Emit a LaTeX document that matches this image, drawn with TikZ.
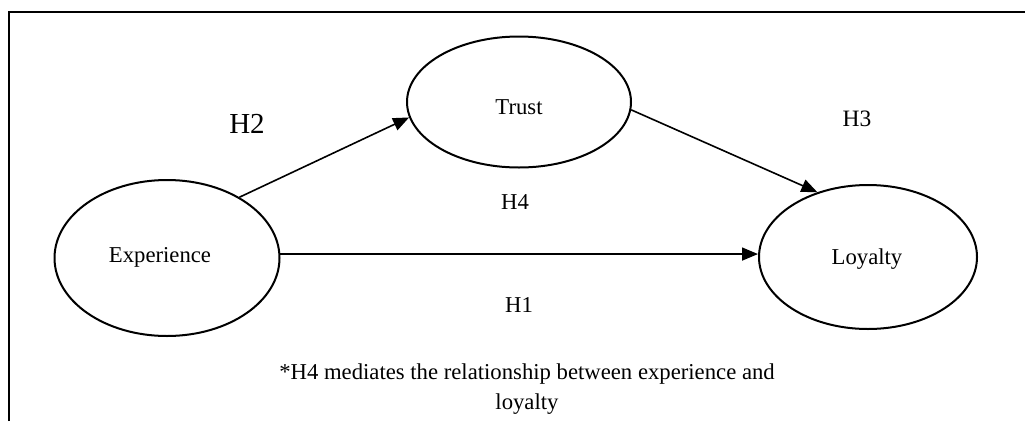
\documentclass[tikz,border=0pt]{standalone}
\usepackage{fontspec}
\setmainfont{Liberation Serif}
\usetikzlibrary{shapes.geometric,arrows.meta}
\tikzset{
  construct/.style={ellipse, draw, line width=2pt, inner sep=0pt},
  conn/.style={line width=1.6pt, -{Triangle[length=16pt,width=13pt]}},
  lbl/.style={anchor=base, inner sep=0pt, font=\fontsize{22.7}{27}\selectfont},
}
\begin{document}
\begin{tikzpicture}[x=1pt,y=-1pt]
\useasboundingbox (0,0) rectangle (1025,421);
% frame
\draw[line width=2pt] (9,421) -- (9,12) -- (1025,12);
% constructs
\node[construct, minimum width=225pt, minimum height=156pt] (exp) at (167,258) {};
\node[construct, minimum width=224pt, minimum height=131pt] (trust) at (519,102) {};
\node[construct, minimum width=218pt, minimum height=144pt] (loy) at (868,257) {};
% construct names
\node[lbl] (texp) at (160,262) {Experience};
\node[lbl] (ttrust) at (519,114) {Trust};
\node[lbl] (tloy) at (867,264) {Loyalty};
% connectors
\draw[conn] (exp.40) -- (trust.188);
\draw[conn] (trust.-4) -- (loy.128);
\draw[conn] (exp.2) -- (exp.2 -| loy.west);
% hypothesis labels
\node[lbl, font=\fontsize{29}{34}\selectfont] (h2) at (247,133) {H2};
\node[lbl, font=\fontsize{23.5}{28}\selectfont] (h3) at (857,126) {H3};
\node[lbl] (h4) at (515,209) {H4};
\node[lbl] (h1) at (519,312) {H1};
% note
\node[lbl] (note1) at (527,379) {*H4 mediates the relationship between experience and};
\node[lbl] (note2) at (527,409) {loyalty};
\end{tikzpicture}
\end{document}
